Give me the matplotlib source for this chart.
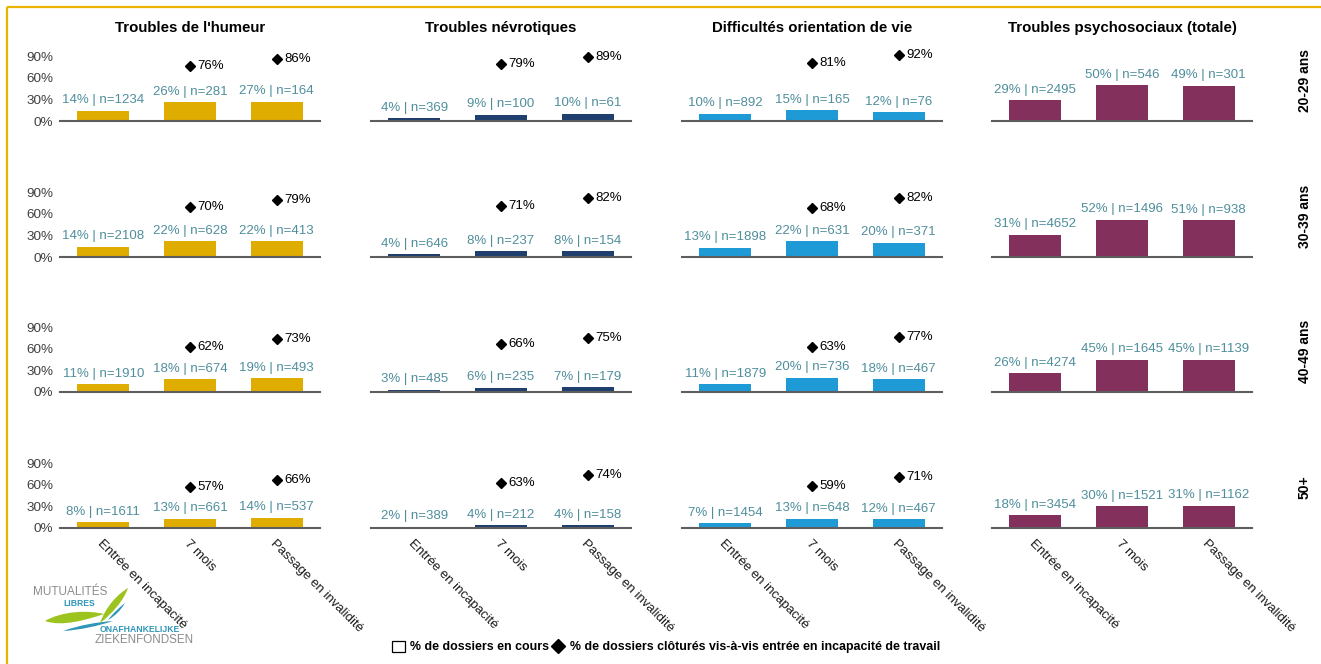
import matplotlib
matplotlib.use("Agg")
import matplotlib.pyplot as plt
from matplotlib.path import Path
from matplotlib.patches import PathPatch, Patch
from matplotlib.lines import Line2D
from matplotlib.transforms import ScaledTranslation

plt.rcParams['font.family'] = ['Liberation Sans', 'DejaVu Sans']

stages = ["Entrée en incapacité", "7 mois", "Passage en invalidité"]
age_groups = ["20-29 ans", "30-39 ans", "40-49 ans", "50+"]
groups = ["Troubles de l'humeur", "Troubles névrotiques",
          "Difficultés orientation de vie", "Troubles psychosociaux (totale)"]
colors = ["#DFAC00", "#1F3F6E", "#1E9AD6", "#84305C"]

# % de dossiers en cours (rows = age groups, columns = stages)
humeur_pct = [[14, 26, 27], [14, 22, 22], [11, 18, 19], [8, 13, 14]]
humeur_n = [[1234, 281, 164], [2108, 628, 413], [1910, 674, 493], [1611, 661, 537]]
# % de dossiers clôturés at "7 mois" and "Passage en invalidité"
humeur_closed = [[76, 86], [70, 79], [62, 73], [57, 66]]

nevro_pct = [[4, 9, 10], [4, 8, 8], [3, 6, 7], [2, 4, 4]]
nevro_n = [[369, 100, 61], [646, 237, 154], [485, 235, 179], [389, 212, 158]]
nevro_closed = [[79, 89], [71, 82], [66, 75], [63, 74]]

orient_pct = [[10, 15, 12], [13, 22, 20], [11, 20, 18], [7, 13, 12]]
orient_n = [[892, 165, 76], [1898, 631, 371], [1879, 736, 467], [1454, 648, 467]]
orient_closed = [[81, 92], [68, 82], [63, 77], [59, 71]]

psycho_pct = [[29, 50, 49], [31, 52, 51], [26, 45, 45], [18, 30, 31]]
psycho_n = [[2495, 546, 301], [4652, 1496, 938], [4274, 1645, 1139], [3454, 1521, 1162]]

pct_data = [humeur_pct, nevro_pct, orient_pct, psycho_pct]
n_data = [humeur_n, nevro_n, orient_n, psycho_n]
closed_data = [humeur_closed, nevro_closed, orient_closed, None]

W, H = 1321, 664
fig = plt.figure(figsize=(W / 100, H / 100), dpi=100)

# background layer in pixel coordinates (frame + logo)
bg = fig.add_axes([0, 0, 1, 1], zorder=-1)
bg.set_xlim(0, W)
bg.set_ylim(H, 0)
bg.axis("off")
bg.patch.set_alpha(0)

frame_col = "#E9B400"
bg.plot([7, W], [7, 7], color=frame_col, lw=1.6, solid_capstyle="butt")
bg.plot([7, 7], [7, H], color=frame_col, lw=1.6, solid_capstyle="butt")


def leaf(ax, pts, color):
    verts = [pts[0], pts[1], pts[2], pts[3], pts[4], pts[5], pts[0]]
    codes = [Path.MOVETO, Path.CURVE4, Path.CURVE4, Path.CURVE4,
             Path.CURVE4, Path.CURVE4, Path.CURVE4]
    ax.add_patch(PathPatch(Path(verts, codes), facecolor=color, edgecolor="none"))


green = "#9CC31E"
teal = "#2E97B8"
leaf(bg, [(45, 621), (62, 611), (88, 610), (104, 614), (86, 620), (62, 627)], green)
leaf(bg, [(63, 631), (80, 625), (98, 622), (113, 621), (98, 626), (80, 630)], teal)
leaf(bg, [(100, 623), (106, 606), (118, 594), (128, 588), (124, 600), (112, 614)], green)
leaf(bg, [(108, 620), (114, 612), (120, 607), (125, 603), (121, 610), (115, 616)], teal)
bg.text(33, 592, "MUTUALITÉS", fontsize=8.5, color="#8C8C8C", ha="left", va="center")
bg.text(63, 604, "LIBRES", fontsize=6.2, color=teal, fontweight="bold", ha="left", va="center")
bg.text(100, 630, "ONAFHANKELIJKE", fontsize=6.2, color=teal, fontweight="bold",
        ha="left", va="center")
bg.text(95, 640, "ZIEKENFONDSEN", fontsize=8.4, color="#8C8C8C", ha="left", va="center")

col_left = [60, 371, 682, 992]
col_width = 260
baselines = [121, 257, 392, 528]
px_per_100 = 72

label_col = "#4F8E9C"
x = range(len(stages))

for c in range(4):
    fig.text((col_left[c] + col_width / 2) / W, 1 - 28 / H, groups[c],
             ha="center", va="center", fontsize=10.8, fontweight="bold")
    for r in range(4):
        ax = fig.add_axes([col_left[c] / W, (H - baselines[r]) / H,
                           col_width / W, px_per_100 / H])
        pct = pct_data[c][r]
        ns = n_data[c][r]
        ax.bar(x, pct, width=0.6, color=colors[c])
        ax.set_xlim(-0.5, 2.5)
        ax.set_ylim(0, 100)
        for s in ("top", "right", "left"):
            ax.spines[s].set_visible(False)
        ax.spines["bottom"].set_color("#5E5E5E")
        ax.spines["bottom"].set_linewidth(1.5)
        ax.patch.set_alpha(0)
        for i, (p, n) in enumerate(zip(pct, ns)):
            ax.annotate(f"{p}% | n={n}", (i, p), xytext=(0, 3.2),
                        textcoords="offset points", ha="center", va="bottom",
                        color=label_col, fontsize=9.5, annotation_clip=False)
        closed = closed_data[c]
        if closed is not None:
            for j, v in enumerate(closed[r]):
                xi = j + 1
                ax.plot([xi], [v], marker="D", color="black", ms=5.6,
                        ls="none", clip_on=False)
                ax.annotate(f"{v}%", (xi, v), xytext=(5.5, 0),
                            textcoords="offset points", ha="left", va="center",
                            color="black", fontsize=9.5, annotation_clip=False)
        ax.set_yticks([0, 30, 60, 90])
        if c == 0:
            ax.set_yticklabels(["0%", "30%", "60%", "90%"], fontsize=9.7,
                               color="#404040")
        else:
            ax.set_yticklabels([])
        ax.tick_params(axis="y", length=0, pad=5)
        ax.set_xticks(list(x))
        if r == 3:
            ax.set_xticklabels(stages, rotation=-45, ha="left", va="top",
                               rotation_mode="anchor", fontsize=9.5, color="#1A1A1A")
            shift = ScaledTranslation(-6 / 100, 0, fig.dpi_scale_trans)
            for lab in ax.get_xticklabels():
                lab.set_transform(lab.get_transform() + shift)
            ax.tick_params(axis="x", length=0, pad=7)
        else:
            ax.set_xticklabels([])
            ax.tick_params(axis="x", length=0)
        if c == 3:
            fig.text(1305 / W, (H - baselines[r] + 41) / H, age_groups[r],
                     rotation=90, ha="center", va="center", fontsize=10,
                     fontweight="bold")

handles = [Patch(facecolor="white", edgecolor="black", linewidth=0.9),
           Line2D([], [], marker="D", color="black", ls="none", ms=7.5)]
fig.legend(handles, ["% de dossiers en cours",
                     "% de dossiers clôturés vis-à-vis entrée en incapacité de travail"],
           ncol=2, loc="center", bbox_to_anchor=(666 / W, 1 - 647 / H),
           frameon=False, prop={"weight": "bold", "size": 8.9},
           handlelength=1.0, handleheight=1.0, handletextpad=0.45,
           columnspacing=0.2, borderaxespad=0)

fig.savefig("out.png", dpi=100)
